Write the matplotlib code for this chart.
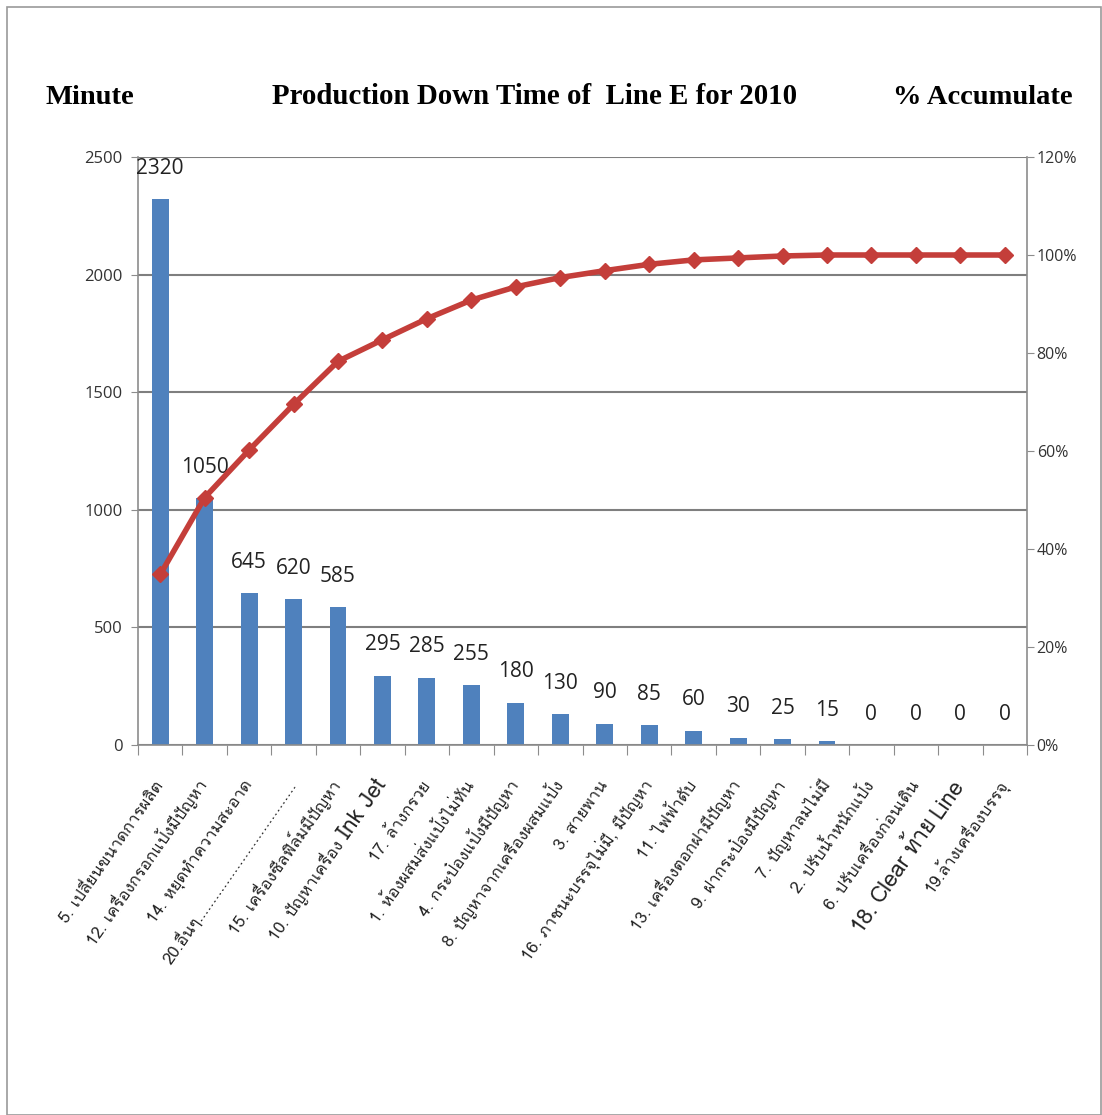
import re
import numpy as np
import matplotlib
matplotlib.use("Agg")
import matplotlib.pyplot as plt
from matplotlib import font_manager
from matplotlib.ft2font import FT2Font
from matplotlib.patches import Rectangle

# ข้อมูล (อ่านจากภาพ)
categories = [
    "5. เปลี่ยนขนาดการผลิต",
    "12. เครื่องกรอกแป้งมีปัญหา",
    "14. หยุดทำความสะอาด",
    "20.อื่นๆ" + "." * 36,
    "15. เครื่องซีลฟิล์มมีปัญหา",
    "10. ปัญหาเครื่อง Ink Jet",
    "17. ล้างกรวย",
    "1. ห้องผสมส่งแป้งไม่ทัน",
    "4. กระป๋องแป้งมีปัญหา",
    "8. ปัญหาจากเครื่องผสมแป้ง",
    "3. สายพาน",
    "16. ภาชนะบรรจุไม่มี, มีปัญหา",
    "11. ไฟฟ้าดับ",
    "13. เครื่องตอกฝามีปัญหา",
    "9. ฝากระป๋องมีปัญหา",
    "7. ปัญหาลมไม่มี",
    "2. ปรับน้ำหนักแป้ง",
    "6. ปรับเครื่องก่อนเดิน",
    "18. Clear ท้าย Line",
    "19.ล้างเครื่องบรรจุ",
]
minutes = [2320, 1050, 645, 620, 585, 295, 285, 255, 180, 130,
           90, 85, 60, 30, 25, 15, 0, 0, 0, 0]
cum_pct = [34.8, 50.5, 60.2, 69.5, 78.3, 82.7, 87.0, 90.8, 93.5, 95.4,
           96.8, 98.1, 99.0, 99.4, 99.8, 100, 100, 100, 100, 100]

left_ticks = [0, 500, 1000, 1500, 2000, 2500]
right_ticks = [0, 20, 40, 60, 80, 100, 120]


def find_thai_font():
    # หาฟอนต์ที่มีอักษรไทย
    for f in font_manager.fontManager.ttflist:
        try:
            if 0x0E01 in FT2Font(f.fname).get_charmap():
                return f.name
        except Exception:
            pass
    return None


thai_font = find_thai_font()
label_family = [thai_font, "DejaVu Sans"] if thai_font else ["Noto Sans", "DejaVu Sans"]

W, H = 1102, 1115
fig = plt.figure(figsize=(W / 100, H / 100), dpi=100)
fig.patches.append(Rectangle((7 / W, 0), (W - 8) / W, 1 - 7 / H, transform=fig.transFigure,
                             fill=False, edgecolor="#9a9a9a", linewidth=1.2))

ax = fig.add_axes([138 / W, 1 - 745 / H, (1027 - 138) / W, (745 - 157) / H])
x = np.arange(len(categories))
ax.bar(x, minutes, width=0.38, color="#4F81BD", zorder=2)
ax.set_xlim(-0.5, len(categories) - 0.5)
ax.set_ylim(0, 2500)
ax.set_yticks(left_ticks)
ax.set_xticks(np.arange(len(categories) + 1) - 0.5)
ax.set_xticklabels([])
ax.set_axisbelow(True)
ax.grid(axis="y", color="#7f7f7f", linewidth=1.5)
for s in ["top", "right"]:
    ax.spines[s].set_visible(False)
for s in ["left", "bottom"]:
    ax.spines[s].set_color("#8c8c8c")
    ax.spines[s].set_linewidth(1.2)
ax.tick_params(axis="y", length=5, color="#8c8c8c", labelsize=12,
               labelcolor="#333333", pad=6)
ax.tick_params(axis="x", length=7, color="#8c8c8c", direction="out")
for lab in ax.get_yticklabels():
    lab.set_family("Open Sans")

for xi, v in zip(x, minutes):
    ax.annotate(str(v), (xi, v), xytext=(0, 31), textcoords="offset pixels",
                ha="center", va="center", fontsize=15, family="Open Sans", color="#222222")

ax2 = ax.twinx()
ax2.plot(x, cum_pct, color="#C43E3A", linewidth=4, marker="D", markersize=8,
         markeredgecolor="#C43E3A", zorder=3)
ax2.set_ylim(0, 120)
ax2.set_yticks(right_ticks)
ax2.set_yticklabels([f"{t}%" for t in right_ticks])
for s in ["top", "left", "bottom"]:
    ax2.spines[s].set_visible(False)
ax2.spines["right"].set_color("#8c8c8c")
ax2.spines["right"].set_linewidth(1.2)
ax2.tick_params(axis="y", length=5, color="#8c8c8c", labelsize=11.5,
                labelcolor="#333333", pad=2)
for lab in ax2.get_yticklabels():
    lab.set_family("Open Sans")

# ป้ายแกน x แบบเอียง (คำภาษาอังกฤษตัวใหญ่กว่า)
angle = 55
renderer = fig.canvas.get_renderer()
ca, sa = np.cos(np.radians(angle)), np.sin(np.radians(angle))
for xi, lab in zip(x, categories):
    parts = [p for p in re.split(r"([A-Za-z][A-Za-z ]*[A-Za-z])", lab) if p.strip()]
    big = "Clear" in lab
    dist = 0.0
    for p in reversed(parts):
        p = p.strip()
        size = 16 if (re.match(r"[A-Za-z]", p) or big) else 12
        t = fig.text(0, 0, p, fontsize=size, family=label_family)
        w = t.get_window_extent(renderer).width
        t.remove()
        ax.annotate(p, (xi, 0), xycoords=("data", "axes fraction"),
                    xytext=(4 - dist * ca, -40 - dist * sa), textcoords="offset pixels",
                    rotation=angle, rotation_mode="anchor", ha="right", va="baseline",
                    fontsize=size, family=label_family, color="#222222",
                    annotation_clip=False)
        dist += w + 5

serif = ["Liberation Serif", "DejaVu Serif"]
fig.text(46 / W, 1 - 97 / H, "Minute", fontsize=20.5, fontweight="bold",
         family=serif, va="center", ha="left")
fig.text(272 / W, 1 - 97 / H, "Production Down Time of  Line E for 2010", fontsize=20.8,
         fontweight="bold", family=serif, va="center", ha="left")
fig.text(893 / W, 1 - 97 / H, "% Accumulate", fontsize=20.5, fontweight="bold",
         family=serif, va="center", ha="left")

fig.savefig("out.png", dpi=100)
